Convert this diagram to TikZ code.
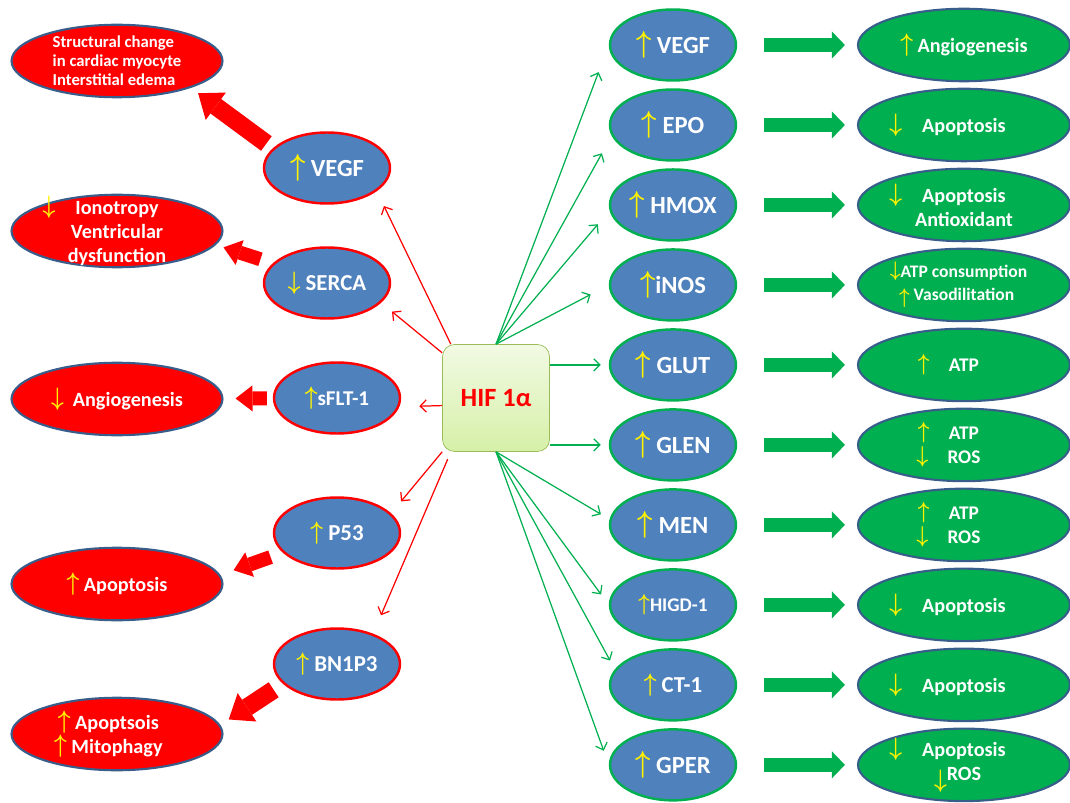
\documentclass[tikz,border=0pt]{standalone}
\usepackage{fontspec}
\setmainfont{Carlito}
\usepackage[dvipsnames]{xcolor}
\usepackage{tikz}
\usetikzlibrary{shapes, arrows.meta}
\definecolor{geneblue}{RGB}{79,129,189}
\definecolor{offgreen}{RGB}{0,176,80}
\definecolor{rimblue}{RGB}{56,93,138}
\definecolor{hifrim}{RGB}{155,187,89}
\definecolor{hiftop}{RGB}{242,250,228}
\definecolor{hifbot}{RGB}{214,240,168}
\newcommand{\upar}{\textcolor{yellow}{\raisebox{0.05em}{\scalebox{1.05}[1.2]{\boldmath$\uparrow$}}}}
\newcommand{\dnar}{\textcolor{yellow}{\raisebox{0.05em}{\scalebox{1.05}[1.2]{\boldmath$\downarrow$}}}}
\tikzstyle{gene} = [ellipse, draw, line width=1.4pt, fill=geneblue, text=white,
    minimum width=2.52cm, minimum height=1.42cm, inner sep=-4pt,
    font=\bfseries\fontsize{14}{16}\selectfont]
\tikzstyle{effect} = [ellipse, draw=rimblue, line width=1.2pt, text=white, align=center,
    minimum height=1.45cm, inner sep=-6pt, font=\bfseries\fontsize{11.5}{13.6}\selectfont]
\tikzstyle{lineR} = [draw=red, line width=0.7pt, -{Straight Barb[length=3.5pt, width=7pt]}]
\tikzstyle{lineG} = [draw=offgreen, line width=0.7pt, -{Straight Barb[length=3.5pt, width=7pt]}]

\begin{document}
\begin{tikzpicture}[x=0.02cm, y=-0.02cm, node distance=1.6cm,
    lgene/.style={gene, draw=red},
    rgene/.style={gene, draw=offgreen},
    bad/.style={effect, fill=red, minimum width=4.22cm},
    good/.style={effect, fill=offgreen, minimum width=4.24cm},
    hifbox/.style={rectangle, rounded corners=0.24cm, draw=hifrim, top color=hiftop,
        bottom color=hifbot, minimum width=2.14cm, minimum height=2.14cm, text=red,
        font=\bfseries\fontsize{15}{18}\selectfont},
    gblock/.style={draw=offgreen, line width=0.29cm,
        -{Triangle[length=0.26cm, width=0.54cm, line width=0pt]},
        shorten <=0.54cm, shorten >=0.24cm},
    bigred/.style={draw=red, line width=0.36cm,
        -{Triangle[length=0.44cm, width=0.68cm, line width=0pt]}},
    smallred/.style={draw=red, line width=0.28cm,
        -{Triangle[length=0.34cm, width=0.52cm, line width=0pt]}}
    ]
    \useasboundingbox (0,0) rectangle (1070,803);

    \node[hifbox] (hif) at (496,398) {HIF 1α};

    \node[lgene] (lvegf) at (327,168) {\upar\ VEGF};
    \node[lgene, font=\bfseries\fontsize{13}{15}\selectfont] (lserca) at (327,283) {\dnar\ SERCA};
    \node[lgene, font=\bfseries\fontsize{12}{14}\selectfont] (lsflt) at (337,398) {\upar sFLT-1};
    \node[lgene, font=\bfseries\fontsize{13}{15}\selectfont] (lp53) at (337,533) {\upar\ P53};
    \node[lgene, font=\bfseries\fontsize{13}{15}\selectfont] (lbn) at (337,664) {\upar\ BN1P3};

    \node[bad, align=left, font=\bfseries\fontsize{9.5}{10.8}\selectfont] (struct) at (117,61)
        {Structural change\\in cardiac myocyte\\Interstitial edema};
    \node[bad] (ion) at (117,231) {\llap{\dnar\quad}Ionotropy\\Ventricular\\dysfunction};
    \node[bad] (angio) at (117,399) {\dnar\ \ Angiogenesis};
    \node[bad] (apop) at (117,584) {\upar\ Apoptosis};
    \node[bad] (apopm) at (117,734) {\llap{\upar\ }Apoptsois\\\llap{\upar\ }Mitophagy};

    \node[rgene] (gvegf) at (673,45) {\upar\ VEGF};
    \node[rgene, below of=gvegf] (gepo) {\upar\ EPO};
    \node[rgene, below of=gepo] (ghmox) {\upar\ HMOX};
    \node[rgene, below of=ghmox] (ginos) {\upar iNOS};
    \node[rgene, below of=ginos] (gglut) {\upar\ GLUT};
    \node[rgene, below of=gglut] (gglen) {\upar\ GLEN};
    \node[rgene, below of=gglen] (gmen) {\upar\ MEN};
    \node[rgene, below of=gmen, font=\bfseries\fontsize{11}{13}\selectfont] (ghigd) {\upar HIGD-1};
    \node[rgene, below of=ghigd, font=\bfseries\fontsize{13}{15}\selectfont] (gct) {\upar\ CT-1};
    \node[rgene, below of=gct] (ggper) {\upar\ GPER};

    \node[good, right of=gvegf, node distance=5.82cm] (ovegf) {\upar\ Angiogenesis};
    \node[good, right of=gepo, node distance=5.82cm] (oepo) {\llap{\dnar\quad}Apoptosis};
    \node[good, right of=ghmox, node distance=5.82cm] (ohmox) {\llap{\dnar\quad}Apoptosis\\Antioxidant};
    \node[good, right of=ginos, node distance=5.82cm, font=\bfseries\fontsize{10}{13}\selectfont]
        (oinos) {\llap{\dnar}ATP consumption\\\llap{\lower0.25em\hbox{\upar}\ }Vasodilitation};
    \node[good, right of=gglut, node distance=5.82cm, font=\bfseries\fontsize{11}{14}\selectfont]
        (oglut) {\llap{\upar\quad}ATP};
    \node[good, right of=gglen, node distance=5.82cm, font=\bfseries\fontsize{11}{14}\selectfont]
        (oglen) {\llap{\upar\quad}ATP\\\llap{\dnar\quad}ROS};
    \node[good, right of=gmen, node distance=5.82cm, font=\bfseries\fontsize{11}{14}\selectfont]
        (omen) {\llap{\upar\quad}ATP\\\llap{\dnar\quad}ROS};
    \node[good, right of=ghigd, node distance=5.82cm] (ohigd) {\llap{\dnar\quad}Apoptosis};
    \node[good, right of=gct, node distance=5.82cm] (oct) {\llap{\dnar\quad}Apoptosis};
    \node[good, right of=ggper, node distance=5.82cm] (ogper)
        {\llap{\dnar\quad}Apoptosis\\\llap{\lower0.4em\hbox{\dnar}}ROS};

    \draw[lineR, shorten >=0.33cm] (hif.130) -- (lvegf.-25);
    \draw[lineR, shorten >=0.28cm] (hif.140) -- (lserca.-20);
    \draw[lineR, shorten >=0.4cm] (hif.188) -- (lsflt.-8);
    \draw[lineR, shorten >=0.31cm] (hif.225) -- (lp53.20);
    \draw[lineR, shorten <=0.16cm, shorten >=0.4cm] (hif.230) -- (lbn.40);

    \draw[lineG, shorten >=0.58cm] (hif.north) -- (gvegf.west);
    \draw[lineG, shorten >=0.4cm] (hif.north) -- (gepo.190);
    \draw[lineG, shorten >=0.36cm] (hif.north) -- (ghmox.185);
    \draw[lineG, shorten >=0.41cm] (hif.north) -- (ginos.west);
    \draw[lineG, shorten >=0.16cm] (hif.east |- gglut) -- (gglut);
    \draw[lineG, shorten >=0.16cm] (hif.east |- gglen) -- (gglen);
    \draw[lineG, shorten >=0.2cm] (hif.south) -- (gmen.175);
    \draw[lineG, shorten >=0.26cm] (hif.south) -- (ghigd.west);
    \draw[lineG, shorten >=0.2cm] (hif.south) -- (gct.165);
    \draw[lineG, shorten >=0.3cm] (hif.south) -- (ggper.west);

    \draw[bigred, shorten <=0.16cm, shorten >=0.18cm] (lvegf.160) -- (struct.-20);
    \draw[smallred, shorten <=0.26cm, shorten >=0.16cm] (lserca.160) -- (ion.-8);
    \draw[smallred, shorten <=0.12cm, shorten >=0.24cm] (lsflt) -- (angio);
    \draw[smallred, shorten <=0.26cm, shorten >=0.28cm] (lp53.200) -- (apop.5);
    \draw[bigred, shorten <=0.22cm, shorten >=0.2cm] (lbn.200) -- (apopm.5);

    \draw[gblock] (gvegf) -- (ovegf);
    \draw[gblock] (gepo) -- (oepo);
    \draw[gblock] (ghmox) -- (ohmox);
    \draw[gblock] (ginos) -- (oinos);
    \draw[gblock] (gglut) -- (oglut);
    \draw[gblock] (gglen) -- (oglen);
    \draw[gblock] (gmen) -- (omen);
    \draw[gblock] (ghigd) -- (ohigd);
    \draw[gblock] (gct) -- (oct);
    \draw[gblock] (ggper) -- (ogper);
\end{tikzpicture}
\end{document}
